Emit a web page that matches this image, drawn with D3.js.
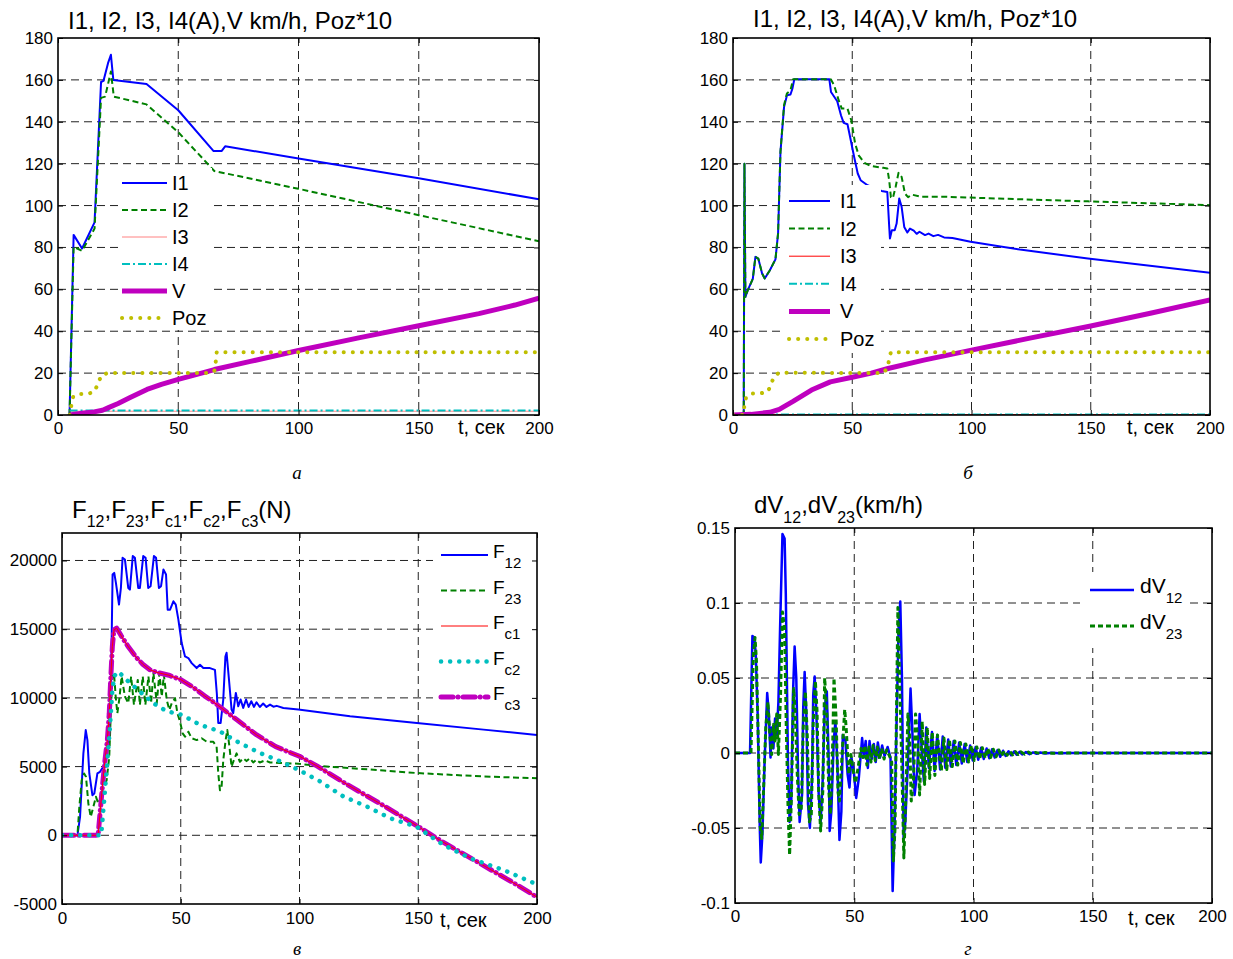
<!DOCTYPE html>
<html>
<head>
<meta charset="utf-8">
<title>I, V, F, dV</title>
<script src="https://d3js.org/d3.v7.min.js"></script>
<style>
  body { margin: 0; background: #fff; }
  text { font-family: "Liberation Sans", Arial, sans-serif; fill: #000; }
  .cap { font-family: "Liberation Serif", "Times New Roman", serif; font-style: italic; }
</style>
</head>
<body>
<script>
// ---- tick labels ----
var xTicks = [0, 50, 100, 150, 200];
var yTicksAB = [0, 20, 40, 60, 80, 100, 120, 140, 160, 180];
var yTicksC = [-5000, 0, 5000, 10000, 15000, 20000];
var yTicksD = [-0.1, -0.05, 0, 0.05, 0.1, 0.15];

// ---- legend labels ----
var legendAB = ["I1", "I2", "I3", "I4", "V", "Poz"];
var legendC = [["F", "12"], ["F", "23"], ["F", "c1"], ["F", "c2"], ["F", "c3"]];
var legendD = [["dV", "12"], ["dV", "23"]];

// ---- panel a: [t, value] ----
var aI1 = [[4.8,0],[6.5,86],[10,79.5],[15.2,92],[17.9,159],[18.9,159.5],[20.8,168],[22,172],[23,160],[36.8,158],[50,145.5],[64.7,126],[68,126],[69.5,128.3],[100,122.5],[150,113],[200,103]];
var aI2 = [[4.8,0],[6.5,80.3],[10,78.4],[15.2,89],[17.9,151.4],[19.6,152],[22,164],[23.2,152],[36.8,148.3],[50,135],[65,116.5],[100,108],[150,95.4],[200,83]];
var aI3 = [[4.8,1.8],[200,1.8]];
var aI4 = [[4.8,2.1],[200,2.1]];
var aV = [[4.8,0],[10,0.8],[15,1.5],[18.5,2.3],[21,3.5],[25,5.5],[30,8.3],[37,12.2],[43,14.6],[50,17],[57,19.2],[65,21.7],[80,25.6],[100,30.8],[125,36.8],[150,42.6],[175,48.4],[190,52.5],[200,55.8]];
var aPoz = [[4.8,0],[5.5,4.3],[6.3,8.7],[8.5,10],[12,10],[15,11],[16.7,15],[18,19],[20.5,20],[63,20],[65,21],[65.6,25.5],[66,30],[200,30]];

// ---- panel b ----
var bI1 = [[0,0],[4.5,0],[4.8,120],[5.2,56.4],[6.2,59.6],[8.3,65],[9.4,75.5],[10.6,74.7],[12.2,67.6],[13.3,65.2],[15.4,69],[17.8,74.3],[18.9,86.7],[19.9,125.6],[21.4,147],[22.6,152.6],[24.1,153],[24.9,155.8],[25.7,160.3],[40.4,160.3],[41.1,154.2],[43.7,149.8],[45.3,143],[46.4,139.5],[48,138.8],[48.8,134.4],[50.8,123.2],[52.3,115.3],[53.5,112.1],[56.4,109.7],[62.3,107],[64.7,106.5],[65.5,89.8],[65.8,84.3],[66.6,88.2],[67.8,88.2],[68.6,91.4],[69.7,103.4],[70.7,99.4],[71.8,89.8],[73.1,87.1],[74.2,89],[75.8,88],[77,86.5],[78.2,87.5],[80.5,85.9],[82,86.6],[84,85.4],[86,86],[88.5,84.8],[92,84.5],[99.6,82.7],[120.3,79],[148.8,74.7],[200,67.9]];
var bI2 = [[0,0],[4.5,0],[4.8,120],[5.2,56.4],[6.2,59.6],[8.3,65],[9.4,75.5],[10.6,74.7],[12.2,67.6],[13.3,65.2],[15.4,69],[17.8,74.3],[18.9,86.7],[19.9,125.6],[21.4,148],[22.6,153.5],[24.1,155],[25.2,160.3],[41,160.3],[42.4,157.4],[44.3,150.3],[45.6,146.3],[48,146.3],[49.6,140.7],[51.2,129.6],[52.7,124],[55.1,120.4],[57.5,119],[63,118],[64.7,117.7],[65.5,112],[66.2,104],[67,103.4],[68.2,109],[69.4,115.6],[70.7,113.7],[72.1,105.7],[73.4,104],[75,105.2],[79,104.2],[88.5,104.2],[99.6,103.8],[120.3,103],[148.8,102],[200,100.2]];
var bI3 = [[0,0.2],[200,0.2]];
var bI4 = [[0,0.2],[200,0.2]];
var bV = [[0,0],[7.5,0.3],[15.4,1.3],[19.4,2.7],[25,6.4],[32.9,11.9],[40.8,15.8],[50,18],[58,20],[65,22.2],[80,26.2],[100,31],[125,36.8],[150,42.5],[175,48.6],[200,54.9]];
var bPoz = [[0,0],[4.4,0],[4.7,3.7],[5.4,8],[7.5,10.3],[11.4,10.3],[14.6,11],[15.9,14.6],[17.3,18.6],[19.4,20.2],[63,20],[64.8,22.6],[65.5,26.7],[66.2,30],[200,30]];

// ---- panel c ----
var cF12 = [[0,0],[6.5,0],[7.6,1340],[9,5960],[10,7660],[10.7,6930],[11.5,4500],[12.8,2920],[13.6,3040],[14.9,4500],[16,4620],[17.4,4990],[18.8,5720],[19.9,7420],[20.6,10580],[21.3,18980],[22,19100],[22.7,18370],[24,16790],[24.8,18000],[25.5,20190],[26.5,20070],[27.9,18000],[28.6,17880],[29.8,20320],[30.7,20190],[32.1,18000],[32.8,18000],[34.2,20320],[35.2,20190],[36.3,18000],[37.3,18130],[38.7,20320],[39.6,20190],[40.8,18000],[41.7,18130],[42.7,19340],[43.8,18980],[44.5,16420],[45.5,16420],[46.9,17030],[47.9,16790],[49,15690],[50.4,13990],[51.8,13020],[53.2,12900],[54.6,12530],[56.7,12170],[58.1,12410],[59.5,12170],[62.3,12170],[64.4,12040],[65.2,10300],[65.8,8180],[66.8,8180],[67.9,9880],[68.8,13000],[69.3,13280],[70.3,11340],[71.4,9150],[72.1,8900],[73.2,10360],[74.2,9390],[75.2,9880],[76.3,9270],[77.5,9880],[78.6,9340],[79.7,9760],[80.8,9340],[81.9,9680],[83.3,9340],[84.7,9590],[86.1,9340],[87.6,9510],[89,9360],[90.4,9420],[93.2,9270],[99.5,9150],[121.3,8660],[149.4,8180],[177.5,7690],[200,7300]];
var cF23 = [[0,0],[6.5,0],[7.3,2070],[8.3,4010],[9.3,4500],[10.1,4260],[11.1,2310],[12.1,1340],[13.2,2070],[14.3,2800],[15.3,2310],[16.3,2680],[17.4,3530],[18.8,4010],[19.9,5720],[20.5,8640],[21.2,11560],[21.9,11800],[22.6,10100],[23.3,8880],[24.2,10000],[25.1,11560],[26.5,10100],[27.9,9610],[29.1,11560],[30.3,9490],[31.9,11310],[32.8,9490],[34,11560],[35.1,9490],[36.4,11560],[37.5,9610],[38.5,11800],[39.9,9610],[41,11800],[42,10100],[42.9,11680],[44.1,9850],[45.2,9120],[46.2,9610],[47.6,9980],[48.6,8880],[49.7,8270],[50.8,7420],[51.8,7180],[53.2,7540],[54.6,7060],[56.7,6930],[58.8,7060],[60.9,6810],[63.7,6810],[65.1,6450],[65.8,4500],[66.5,3280],[67.2,3530],[67.9,5470],[68.9,6930],[69.6,7660],[70.5,6450],[71.4,4990],[72.1,5350],[73.5,5960],[74.9,5350],[76.3,5600],[77.7,5400],[79.1,5600],[80.5,5300],[81.9,5500],[83.3,5300],[85.4,5450],[87.6,5300],[91.8,5260],[99.5,5210],[107.3,5060],[121.3,4890],[135.4,4720],[149.4,4530],[177.5,4280],[200,4150]];
var cFc1 = [[0,0],[15.2,0],[16,1580],[17,3530],[18.1,5470],[19.1,6930],[19.9,8880],[20.5,11310],[21.2,13750],[21.9,14960],[23,15080],[25,14500],[28,13700],[31,13000],[34,12450],[37,12050],[40,11850],[45,11650],[50,11330],[55,10800],[60,10150],[65.3,9510],[73.5,8420],[82,7300],[90,6450],[100,5750],[107.3,5050],[120,3700],[135,2200],[150,630],[160,-450],[175,-1950],[190,-3450],[200,-4500]];
var cFc2 = [[0,0],[16.5,0],[17.5,2000],[18.8,4740],[20.2,7900],[21.2,10500],[22,11600],[23.7,11920],[27.2,11310],[32.8,10460],[38.5,9610],[44,9030],[50.3,8780],[58,8050],[66.4,7570],[73.5,6840],[83.3,5990],[90.4,5500],[99.5,4770],[108.7,3920],[118.5,2820],[128.4,2090],[138.2,1240],[149.2,630],[160.7,-710],[172,-1680],[186,-2530],[197.3,-3380],[200,-3550]];
var cFc3 = [[0,0],[15.2,0],[16,1580],[17,3530],[18.1,5470],[19.1,6930],[19.9,8880],[20.5,11310],[21.2,13750],[21.9,14960],[23,15080],[25,14500],[28,13700],[31,13000],[34,12450],[37,12050],[40,11850],[45,11650],[50,11330],[55,10800],[60,10150],[65.3,9510],[73.5,8420],[82,7300],[90,6450],[100,5750],[107.3,5050],[120,3700],[135,2200],[150,630],[160,-450],[175,-1950],[190,-3450],[200,-4500]];

// ---- panel d ----
var dV12 = [[0,0],[6.3,0],[7.3,0.078],[8.1,0.077],[8.7,0.066],[9.5,0.026],[10.4,-0.05],[10.8,-0.073],[11.5,-0.054],[12.4,-0.006],[13.5,0.04],[14.2,0.026],[14.9,-0.003],[15.4,0.017],[16.1,0.003],[16.8,0.023],[17.5,0.012],[18.2,0.034],[18.9,0.083],[19.9,0.146],[20.8,0.143],[21.3,0.106],[22.2,-0.006],[22.9,-0.046],[23.6,-0.032],[24.3,0.039],[25,0.071],[25.7,0.05],[26.4,-0.01],[27.1,-0.046],[28.1,-0.028],[28.6,0.03],[29.2,0.054],[29.9,0.026],[30.6,-0.034],[31.4,-0.05],[32.3,-0.017],[32.8,0.039],[33.4,0.051],[34.1,0.028],[35.1,-0.028],[35.9,-0.046],[36.8,-0.017],[37.6,0.03],[38.5,0.041],[39.3,-0.006],[39.7,-0.052],[40.4,-0.039],[41.4,0.008],[42.1,0.021],[42.9,-0.006],[43.8,-0.058],[44.6,-0.039],[45.2,0.012],[46.3,0.008],[47.2,-0.014],[48,-0.023],[48.8,-0.003],[49.8,-0.012],[50.8,-0.03],[51.9,-0.017],[53.3,0.01],[54,-0.003],[54.8,0.008],[55.7,-0.01],[56.4,0.008],[57.3,-0.004],[58.2,0.006],[59,-0.006],[59.9,0.007],[60.8,-0.003],[61.7,0.005],[62.7,-0.002],[64,0.004],[65.2,-0.003],[66.1,-0.092],[66.9,-0.05],[67.6,0.01],[68.6,0.083],[69.3,0.101],[70,0.05],[70.7,-0.057],[71.4,-0.046],[72.5,-0.006],[73.6,0.043],[74.3,0.017],[75.3,-0.028],[76.4,-0.012],[77.4,0.026],[78.3,0.002],[79.2,-0.019],[80.2,0.017],[81.3,-0.01],[82.6,0.014],[83.7,-0.012],[84.8,0.012],[86,-0.011],[87.1,0.011],[88.2,-0.01],[89.4,0.009],[90.5,-0.009],[91.7,0.008],[92.8,-0.008],[94,0.007],[95.1,-0.007],[96.3,0.006],[97.4,-0.006],[98.6,0.005],[99.7,-0.005],[100.9,0.004],[102,-0.0045],[103.2,0.0035],[104.3,-0.004],[105.5,0.003],[106.6,-0.0035],[107.8,0.0025],[108.9,-0.003],[110.1,0.002],[111.2,-0.0025],[112.4,0.0015],[113.5,-0.002],[114.7,0.0012],[115.8,-0.0015],[117,0.001],[118.1,-0.0012],[119.3,0.0008],[120.4,-0.001],[122,0.0006],[123.5,-0.0008],[125,0.0004],[126.5,-0.0005],[128,0.0003],[130,-0.0003],[133,0.0002],[136,-0.0002],[140,0],[200,0]];
var dV23 = [[0,0],[6.7,0],[7.7,0.066],[8.4,0.077],[9,0.061],[9.8,0.006],[10.5,-0.048],[11.2,-0.057],[11.9,-0.028],[12.9,0.017],[13.8,0.034],[14.6,0.012],[15.4,-0.001],[16.1,0.019],[16.8,0.008],[17.5,0.026],[18.2,-0.001],[19.1,0.039],[19.9,0.094],[20.8,0.083],[21.5,0.017],[22.2,-0.034],[22.9,-0.068],[23.6,-0.032],[24.6,0.043],[25.3,0.026],[26.1,-0.014],[26.9,-0.041],[27.8,-0.037],[28.6,0.017],[29.5,0.041],[30.3,0.012],[31.2,-0.046],[32,-0.041],[32.8,0.021],[33.7,0.048],[34.4,0.028],[35.1,-0.026],[35.9,-0.052],[36.8,-0.026],[37.6,0.05],[38.5,0.026],[39.3,-0.024],[40,-0.041],[41,0.008],[41.5,0.05],[42.4,0.023],[43.2,-0.026],[43.8,-0.032],[44.9,-0.001],[46,0.029],[46.6,0.017],[47.7,-0.014],[48.6,-0.001],[49.4,-0.01],[50.5,-0.02],[51.6,-0.01],[52.8,0.003],[53.6,-0.003],[54.5,0.005],[55.3,-0.008],[56.2,0.004],[57,-0.006],[57.9,0.005],[58.8,-0.005],[59.7,0.004],[60.6,-0.004],[61.5,0.003],[62.5,-0.004],[63.6,0.002],[64.8,-0.002],[65.7,-0.006],[66.4,-0.072],[67.1,-0.05],[67.8,0.039],[68.3,0.097],[69,0.05],[69.9,-0.006],[70.8,-0.07],[71.6,-0.03],[72.5,0.026],[73.2,0.012],[73.9,-0.032],[74.8,-0.02],[75.7,0.026],[76.5,0.01],[77.4,-0.028],[78.5,0.021],[79.5,-0.021],[80.6,0.017],[81.6,-0.017],[82.7,0.014],[83.8,-0.015],[84.9,0.012],[86.5,-0.012],[87.6,0.01],[88.8,-0.011],[89.9,0.009],[91.1,-0.009],[92.2,0.008],[93.4,-0.008],[94.5,0.007],[95.7,-0.007],[96.8,0.006],[98,-0.006],[99.1,0.005],[100.3,-0.005],[101.4,0.004],[102.6,-0.004],[103.7,0.0035],[104.9,-0.0035],[106,0.003],[107.2,-0.003],[108.3,0.0025],[109.5,-0.0025],[110.6,0.002],[111.8,-0.002],[112.9,0.0015],[114.1,-0.0015],[115.2,0.0012],[116.4,-0.0012],[117.5,0.001],[118.7,-0.001],[119.8,0.0008],[121.5,-0.0008],[123,0.0006],[124.5,-0.0006],[126,0.0004],[128,-0.0004],[130,0.0003],[133,-0.0002],[137,0.0001],[140,0],[200,0]];

// line styles (matlab-ish colours)
var ST = {
  blue:    {color: "#0000ff", width: 2},
  green:   {color: "#008000", width: 2, dash: "6,3.5"},
  redA:    {color: "#ff3030", width: 1, opacity: 0.6},
  red:     {color: "#ff0000", width: 1},
  cyanDD:  {color: "#00bfbf", width: 2, dash: "8,3,2,3"},
  magenta: {color: "#bf00bf", width: 5},
  yellow:  {color: "#bfbf00", width: 4, dash: "0.1,9", cap: "round"},
  cyanDot: {color: "#00bfbf", width: 4.5, dash: "0.1,9", cap: "round"},
  magDD:   {color: "#bf00bf", width: 5, dash: "12,5,0.1,5", cap: "round"},
  blueD:   {color: "#0000ff", width: 2.5},
  greenD:  {color: "#008000", width: 3, dash: "5,3"}
};

var svg = d3.select("body").append("svg")
    .attr("width", 1233)
    .attr("height", 959);

function styleLine(sel, s) {
  sel.attr("fill", "none")
    .attr("stroke", s.color)
    .attr("stroke-width", s.width)
    .attr("stroke-dasharray", s.dash || null)
    .attr("stroke-linecap", s.cap || "butt")
    .attr("stroke-linejoin", "round")
    .attr("stroke-opacity", s.opacity || 1);
}

// text with subscripts: parts = [[text, isSub], ...]
function subText(g, x, y, parts, big, small, shift) {
  var t = g.append("text").attr("x", x).attr("y", y).style("font-size", big + "px");
  var down = false;
  parts.forEach(function(p) {
    var dy = 0;
    if (p[1] && !down) { dy = shift; down = true; }
    else if (!p[1] && down) { dy = -shift; down = false; }
    t.append("tspan").attr("dy", dy).style("font-size", (p[1] ? small : big) + "px").text(p[0]);
  });
  return t;
}

function drawPanel(p) {
  var x = d3.scaleLinear().domain([0, 200]).range([p.left, p.right]);
  var y = d3.scaleLinear().domain(p.yDomain).range([p.bottom, p.top]);
  var g = svg.append("g");

  var clipId = "clip" + p.id;
  g.append("clipPath").attr("id", clipId).append("rect")
    .attr("x", p.left).attr("y", p.top)
    .attr("width", p.right - p.left).attr("height", p.bottom - p.top);

  // grid
  var grid = g.append("g").attr("stroke", "#222").attr("stroke-width", 1).attr("stroke-dasharray", "8,5");
  xTicks.filter(function(d) { return d > 0 && d < 200; }).forEach(function(d) {
    grid.append("line").attr("x1", x(d)).attr("x2", x(d)).attr("y1", p.top).attr("y2", p.bottom);
  });
  p.yTicks.filter(function(d) { return d > p.yDomain[0] && d < p.yDomain[1]; }).forEach(function(d) {
    grid.append("line").attr("x1", p.left).attr("x2", p.right).attr("y1", y(d)).attr("y2", y(d));
  });

  // series (drawn in plotting order, legend keeps its own order)
  var line = d3.line().x(function(d) { return x(d[0]); }).y(function(d) { return y(d[1]); });
  var plot = g.append("g").attr("clip-path", "url(#" + clipId + ")");
  var order = p.order || d3.range(p.series.length);
  order.forEach(function(i) {
    var s = p.series[i];
    plot.append("path").datum(s[0]).attr("d", line).call(styleLine, s[1]);
  });

  // legend
  var L = p.legend;
  g.append("rect").attr("x", L.x).attr("y", L.y).attr("width", L.w).attr("height", L.h).attr("fill", "#fff");
  L.labels.forEach(function(lab, i) {
    var ry = L.row0 + i * L.step;
    g.append("path").attr("d", "M" + L.x1 + "," + ry + "H" + L.x2).call(styleLine, p.series[i][1]);
    if (typeof lab === "string") {
      g.append("text").attr("x", L.tx).attr("y", ry + 7).style("font-size", L.font + "px").text(lab);
    } else {
      subText(g, L.tx, ry + 3, [[lab[0], false], [lab[1], true]], L.font, L.sub, 10);
    }
  });

  // axes with inward ticks on all four sides
  g.append("g").attr("transform", "translate(0," + p.bottom + ")")
    .call(d3.axisBottom(x).tickValues(xTicks).tickSizeInner(-5).tickSizeOuter(0).tickPadding(p.xPad).tickFormat(d3.format("d")));
  g.append("g").attr("transform", "translate(0," + p.top + ")")
    .call(d3.axisTop(x).tickValues(xTicks).tickSizeInner(-5).tickSizeOuter(0).tickFormat(""));
  g.append("g").attr("transform", "translate(" + p.left + ",0)")
    .call(d3.axisLeft(y).tickValues(p.yTicks).tickSizeInner(-5).tickSizeOuter(0).tickPadding(5).tickFormat(function(d) { return String(d); }));
  g.append("g").attr("transform", "translate(" + p.right + ",0)")
    .call(d3.axisRight(y).tickValues(p.yTicks).tickSizeInner(-5).tickSizeOuter(0).tickFormat(""));
  g.selectAll(".domain").remove();
  g.selectAll(".tick line").attr("stroke", "#000");
  g.selectAll(".tick text").attr("font-family", null).style("font-size", "17px").attr("fill", "#000");

  // frame
  g.append("rect").attr("x", p.left).attr("y", p.top)
    .attr("width", p.right - p.left).attr("height", p.bottom - p.top)
    .attr("fill", "none").attr("stroke", "#000").attr("stroke-width", 1.6);

  // labels
  g.append("text").attr("x", p.tx).attr("y", p.ty).style("font-size", "20px").text("t, сек");
  g.append("text").attr("class", "cap").attr("x", p.capX).attr("y", p.capY)
    .attr("text-anchor", "middle").style("font-size", "19px").text(p.caption);
  p.title(g);
}

drawPanel({
  id: "a", left: 58, right: 539, top: 38, bottom: 415, yDomain: [0, 180], yTicks: yTicksAB, xPad: 7,
  series: [[aI1, ST.blue], [aI2, ST.green], [aI3, ST.redA], [aI4, ST.cyanDD], [aV, ST.magenta], [aPoz, ST.yellow]],
  legend: {x: 118, y: 168, w: 94, h: 162, x1: 122, x2: 167, tx: 172, row0: 183, step: 27, font: 20, labels: legendAB},
  tx: 458, ty: 434, caption: "а", capX: 297, capY: 479,
  title: function(g) { g.append("text").attr("x", 68).attr("y", 29).style("font-size", "24px").text("I1, I2, I3, I4(A),V km/h, Poz*10"); }
});

drawPanel({
  id: "b", left: 733, right: 1210, top: 38, bottom: 415, yDomain: [0, 180], yTicks: yTicksAB, xPad: 7,
  series: [[bI1, ST.blue], [bI2, ST.green], [bI3, ST.red], [bI4, ST.cyanDD], [bV, ST.magenta], [bPoz, ST.yellow]],
  legend: {x: 785, y: 185, w: 96, h: 168, x1: 789, x2: 830, tx: 840, row0: 201, step: 27.6, font: 20, labels: legendAB},
  tx: 1127, ty: 434, caption: "б", capX: 968, capY: 479,
  title: function(g) { g.append("text").attr("x", 753).attr("y", 27).style("font-size", "24px").text("I1, I2, I3, I4(A),V km/h, Poz*10"); }
});

drawPanel({
  id: "c", left: 62, right: 537, top: 533, bottom: 904, yDomain: [-5000, 22000], yTicks: yTicksC, xPad: 8,
  series: [[cF12, ST.blue], [cF23, ST.green], [cFc1, ST.red], [cFc2, ST.cyanDot], [cFc3, ST.magDD]],
  order: [0, 1, 4, 2, 3],
  legend: {x: 433, y: 538, w: 104, h: 176, x1: 441, x2: 488, tx: 493, row0: 555, step: 35.5, font: 19, sub: 15, labels: legendC},
  tx: 440, ty: 927, caption: "в", capX: 297, capY: 955,
  title: function(g) {
    subText(g, 72, 518, [["F", 0], ["12", 1], [",F", 0], ["23", 1], [",F", 0], ["c1", 1], [",F", 0], ["c2", 1], [",F", 0], ["c3", 1], ["(N)", 0]], 24, 16, 9);
  }
});

drawPanel({
  id: "d", left: 735, right: 1212, top: 528, bottom: 903, yDomain: [-0.1, 0.15], yTicks: yTicksD, xPad: 7,
  series: [[dV12, ST.blueD], [dV23, ST.greenD]],
  legend: {x: 1080, y: 572, w: 106, h: 76, x1: 1090, x2: 1134, tx: 1140, row0: 590, step: 36, font: 21, sub: 15, labels: legendD},
  tx: 1128, ty: 925, caption: "г", capX: 968, capY: 955,
  title: function(g) {
    subText(g, 754, 513, [["dV", 0], ["12", 1], [",dV", 0], ["23", 1], ["(km/h)", 0]], 24, 16, 10);
  }
});
</script>
</body>
</html>
